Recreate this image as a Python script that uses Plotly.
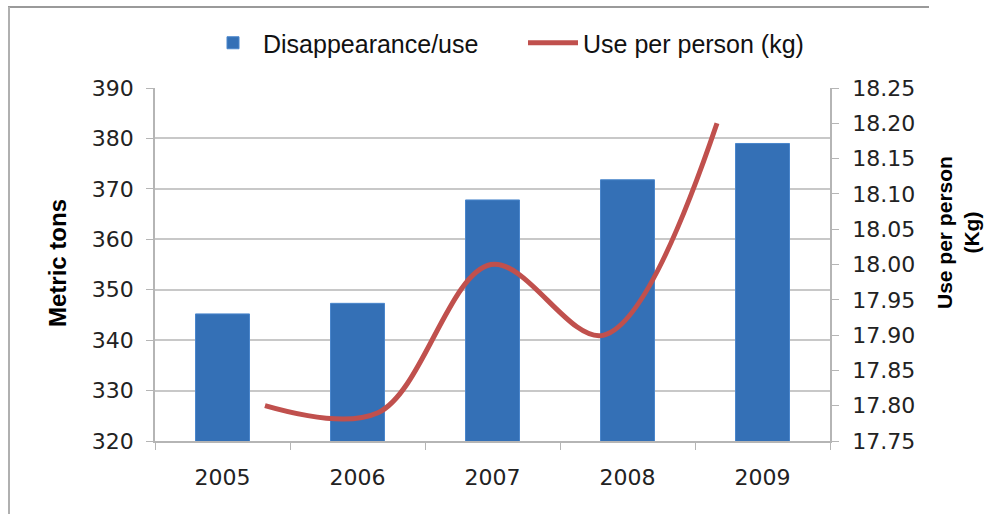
import plotly.graph_objects as go

years = ["2005", "2006", "2007", "2008", "2009"]
disappearance = [345.2, 347.3, 367.8, 371.8, 379.0]
use_per_person = [17.80, 17.79, 18.00, 17.90, 18.20]

font_tick = "DejaVu Sans, Liberation Sans, Arial, sans-serif"
font_title = "Liberation Sans, Arial, sans-serif"
font_legend = "Liberation Sans, Arial, sans-serif"

L, R, T, B = 155, 157, 88, 73
PW, PH = 987 - L - R, 514 - T - B

fig = go.Figure()
fig.add_trace(go.Bar(
    x=years, y=disappearance, name="Disappearance/use",
    marker=dict(color="#3470B6", line=dict(color="#4A86CC", width=1)),
    width=0.4, xaxis="x", yaxis="y",
))
fig.add_trace(go.Scatter(
    x=years, y=use_per_person, name="Use per person (kg)",
    mode="lines", line=dict(color="#C0504D", width=5, shape="spline", smoothing=1.0),
    xaxis="x2", yaxis="y2",
))

fig.update_layout(
    width=987, height=514,
    margin=dict(l=L, r=R, t=T, b=B, autoexpand=False),
    paper_bgcolor="white", plot_bgcolor="white",
    showlegend=True,
    legend=dict(orientation="h", x=(209 - L - 6) / PW, xanchor="left", y=1 - 43/514, yanchor="middle",
                yref="container", font=dict(family=font_legend, size=25, color="#111"),
                itemwidth=50, entrywidth=255, tracegroupgap=0, bgcolor="rgba(0,0,0,0)"),
    bargap=0.6,
    xaxis=dict(type="category", range=[-0.5, 4.5], tickson="boundaries",
               ticks="outside", ticklen=7, tickcolor="#B5B5B5", ticklabelstandoff=16,
               showline=True, linecolor="#B5B5B5", linewidth=1.5,
               showgrid=False, tickfont=dict(family=font_tick, size=22, color="#222")),
    xaxis2=dict(type="category", overlaying="x", range=[-0.973, 5.0],
                visible=False, showgrid=False),
    yaxis=dict(range=[320, 390], dtick=10, ticks="outside", ticklen=7, ticklabelstandoff=8,
               tickcolor="#B5B5B5", showline=True, linecolor="#B5B5B5", linewidth=1.5,
               showgrid=True, gridcolor="#C8C8C8", gridwidth=1.5, zeroline=False,
               tickfont=dict(family=font_tick, size=22, color="#222")),
    yaxis2=dict(range=[17.75, 18.25], dtick=0.05, tickformat=".2f", overlaying="y", side="right",
                ticks="outside", ticklen=7, tickcolor="#B5B5B5", ticklabelstandoff=9,
                showline=True, linecolor="#B5B5B5", linewidth=1.5, showgrid=False, zeroline=False,
                tickfont=dict(family=font_tick, size=22, color="#222")),
    annotations=[
        dict(text="<b>Metric tons</b>", textangle=-90, xref="paper", yref="paper",
             x=(57 - L) / PW, y=(514 - B - 263) / PH, xanchor="center", yanchor="middle",
             showarrow=False, font=dict(family=font_title, size=24, color="#000")),
        dict(text="<b>Use per person<br>(Kg)</b>", textangle=-90, xref="paper", yref="paper",
             x=(958 - L) / PW, y=(514 - B - 233) / PH, xanchor="center", yanchor="middle",
             showarrow=False, font=dict(family=font_title, size=21, color="#000")),
    ],
    shapes=[
        dict(type="line", xref="paper", yref="paper", x0=(8 - L)/PW, x1=(929 - L)/PW,
             y0=(514 - B - 7)/PH, y1=(514 - B - 7)/PH, line=dict(color="#9A9A9A", width=2)),
        dict(type="line", xref="paper", yref="paper", x0=(9 - L)/PW, x1=(9 - L)/PW,
             y0=(514 - B - 7)/PH, y1=-B/PH, line=dict(color="#B0B0B0", width=2)),
    ],
)

fig.write_html("out.html")
